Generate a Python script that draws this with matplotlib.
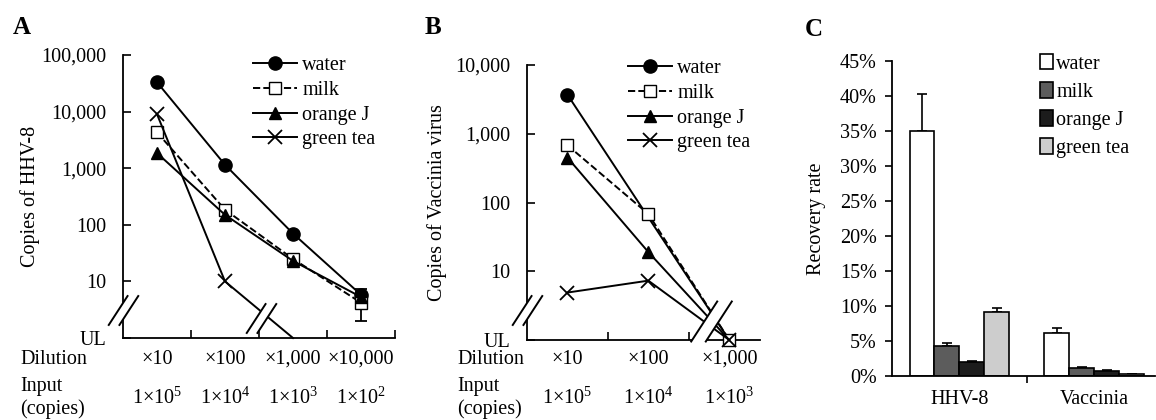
import numpy as np
import matplotlib
matplotlib.use("Agg")
import matplotlib.pyplot as plt
from matplotlib.path import Path
from matplotlib.lines import Line2D
from matplotlib.transforms import blended_transform_factory

plt.rcParams['font.family'] = ['Liberation Serif', 'DejaVu Serif']
plt.rcParams['mathtext.fontset'] = 'custom'
plt.rcParams['mathtext.rm'] = 'Liberation Serif'
FS = 14.5
plt.rcParams['font.size'] = FS

UL = 1.0
nan = np.nan

# panel A - HHV-8
dil_a = ['×10', '×100', '×1,000', '×10,000']
inp_a = [r'1×10$^5$', r'1×10$^4$', r'1×10$^3$', r'1×10$^2$']
hhv_water = [33000, 1150, 70, 5.8]
hhv_milk = [4300, 185, 25, 4.2]
hhv_oj = [1850, 150, 23, 5.3]
hhv_tea = [9000, 10, UL, nan]
hhv_water_err = [0, 0, 0, 1.5]
hhv_milk_err_lo = [0, 0, 0, 2.2]
hhv_milk_err_hi = [0, 0, 0, 2.3]

# panel B - Vaccinia
dil_b = ['×10', '×100', '×1,000']
inp_b = [r'1×10$^5$', r'1×10$^4$', r'1×10$^3$']
vac_water = [3700, nan, UL]
vac_milk = [680, 68, UL]
vac_oj = [450, 19, UL]
vac_tea = [4.9, 7.3, UL]

# panel C - recovery rate (%)
viruses = ['HHV-8', 'Vaccinia']
drinks = ['water', 'milk', 'orange J', 'green tea']
rec = {'water': [35.0, 6.2], 'milk': [4.3, 1.1], 'orange J': [2.0, 0.7], 'green tea': [9.1, 0.3]}
rec_err = {'water': [5.3, 0.7], 'milk': [0.4, 0.15], 'orange J': [0.1, 0.1], 'green tea': [0.6, 0.05]}
bar_colors = {'water': 'white', 'milk': '#5c5c5c', 'orange J': '#1c1c1c', 'green tea': '#cdcdcd'}

styles = {
    'water': dict(marker='o', ms=9.5, mfc='black', ls='-'),
    'milk': dict(marker='s', ms=8.5, mfc='white', ls='--'),
    'orange J': dict(marker='^', ms=8.5, mfc='black', ls='-'),
    'green tea': dict(marker='x', ms=9.5, mew=1.3, ls='-'),
}

# break mark: two parallel slashes with a white gap between them
gap = Path([(-1.0, -1), (0.3, 1), (1.0, 1), (-0.3, -1), (-1.0, -1)],
           [Path.MOVETO, Path.LINETO, Path.LINETO, Path.LINETO, Path.CLOSEPOLY])
slashes = Path([(-1.0, -1), (0.3, 1), (-0.3, -1), (1.0, 1)],
               [Path.MOVETO, Path.LINETO, Path.MOVETO, Path.LINETO])


def brk(ax, x, y, size=22, transform=None):
    t = transform if transform is not None else ax.transData
    ax.plot([x], [y], marker=gap, ms=size, mfc='white', mec='white', mew=0.5,
            ls='none', transform=t, clip_on=False, zorder=5)
    ax.plot([x], [y], marker=slashes, ms=size, mfc='none', mec='black', mew=1.4,
            ls='none', transform=t, clip_on=False, zorder=6)


def plot_line(ax, xs, ys, name, markevery=None, err=None):
    xs = np.asarray(xs, float)
    ys = np.asarray(ys, float)
    ok = ~np.isnan(ys)
    st = dict(styles[name])
    ax.plot(xs[ok], ys[ok], color='black', lw=1.4, mec='black', clip_on=False,
            markevery=markevery, zorder=3, **st)
    if err is not None:
        ax.errorbar(xs[ok], ys[ok], yerr=np.asarray(err)[:, ok], fmt='none',
                    ecolor='black', elinewidth=1.3, capsize=4, capthick=1.3, zorder=2)


def dilution_labels(ax, fig_x, dil, inp):
    tr = blended_transform_factory(ax.transData, fig.transFigure)
    for i, (d, p) in enumerate(zip(dil, inp)):
        ax.text(i + 0.5, 1 - 359 / 420, d, transform=tr, ha='center', va='center')
        ax.text(i + 0.5, 1 - 398 / 420, p, transform=tr, ha='center', va='center')
    fig.text(fig_x, 1 - 360 / 420, 'Dilution', ha='left', va='center')
    fig.text(fig_x, 1 - 386 / 420, 'Input', ha='left', va='center')
    fig.text(fig_x, 1 - 409 / 420, '(copies)', ha='left', va='center')


def style_axes(ax, direction, length, pad):
    ax.yaxis.set_minor_locator(matplotlib.ticker.NullLocator())
    ax.set_xticklabels([])
    ax.tick_params(direction=direction, length=length, width=1.2, labelsize=FS)
    ax.tick_params(axis='y', pad=pad)
    for s in ['top', 'right']:
        ax.spines[s].set_visible(False)
    for s in ['left', 'bottom']:
        ax.spines[s].set_linewidth(1.3)


fig = plt.figure(figsize=(11.56, 4.2), dpi=100)

# ---------- A ----------
axA = fig.add_axes([123 / 1156, 1 - 338 / 420, 272 / 1156, 283 / 420])
xa = np.arange(4) + 0.5
plot_line(axA, xa, hhv_water, 'water', err=[[0] * 4, hhv_water_err])
plot_line(axA, xa, hhv_milk, 'milk', err=[hhv_milk_err_lo, hhv_milk_err_hi])
plot_line(axA, xa, hhv_oj, 'orange J')
plot_line(axA, xa, hhv_tea, 'green tea', markevery=[0, 1])
axA.set_yscale('log')
axA.set_ylim(UL, 1e5)
axA.set_xlim(0, 4)
axA.set_yticks([UL, 10, 100, 1e3, 1e4, 1e5])
axA.set_yticklabels(['UL', '10', '100', '1,000', '10,000', '100,000'])
axA.set_xticks([1, 2, 3, 4])
style_axes(axA, 'in', 6, 12)
axA.set_ylabel('Copies of HHV-8', labelpad=1)
dilution_labels(axA, 20 / 1156, dil_a, inp_a)
brk(axA, 0, 0.1, transform=axA.transAxes)
brk(axA, 2.03, 10 ** (1 - 0.5 * 1.3), size=22)
fig.text(13 / 1156, 1 - 27 / 420, 'A', fontsize=18, fontweight='bold', va='center')

# ---------- B ----------
axB = fig.add_axes([527 / 1156, 1 - 340 / 420, 233 / 1156, 275 / 420])
xb = np.arange(3) + 0.5
plot_line(axB, xb, vac_water, 'water', markevery=[0])
plot_line(axB, xb, vac_milk, 'milk')
plot_line(axB, xb, vac_oj, 'orange J', markevery=[0, 1])
plot_line(axB, xb, vac_tea, 'green tea')
axB.set_yscale('log')
axB.set_ylim(UL, 1e4)
axB.set_xlim(0, 2.88)
axB.set_yticks([UL, 10, 100, 1e3, 1e4])
axB.set_yticklabels(['UL', '10', '100', '1,000', '10,000'])
axB.set_xticks([1, 2])
style_axes(axB, 'in', 6, 12)
axB.set_ylabel('Copies of Vaccinia virus', labelpad=6)
dilution_labels(axB, 457 / 1156, dil_b, inp_b)
brk(axB, 0, 0.11, transform=axB.transAxes)
brk(axB, 2.27, 1.9, size=30)
fig.text(425 / 1156, 1 - 27 / 420, 'B', fontsize=18, fontweight='bold', va='center')

legend_handles = [Line2D([], [], color='black', lw=1.4, mec='black', **styles[n]) for n in drinks]
for ax, lx, ly in [(axA, 253, 56), (axB, 628, 59)]:
    ax.legend(legend_handles, drinks, loc='upper left',
              bbox_to_anchor=(lx / 1156, 1 - ly / 420), bbox_transform=fig.transFigure,
              frameon=False, borderpad=0, borderaxespad=0, handlelength=2.2,
              handletextpad=0.25, labelspacing=0.28)

# ---------- C ----------
axC = fig.add_axes([892 / 1156, 1 - 376 / 420, 263 / 1156, 315 / 420])
xc = np.arange(len(viruses)) + 0.5
w = 0.185
for i, d in enumerate(drinks):
    axC.bar(xc + (i - 1.5) * w, rec[d], w, color=bar_colors[d], edgecolor='black',
            linewidth=1.2, label=d, zorder=2)
    axC.errorbar(xc + (i - 1.5) * w, rec[d], yerr=[[0, 0], rec_err[d]], fmt='none',
                 ecolor='black', elinewidth=1.2, capsize=3.5, capthick=1.2, zorder=1)
axC.set_xlim(0, 1.95)
axC.set_ylim(0, 45)
axC.set_yticks(np.arange(0, 46, 5))
axC.set_yticklabels([f'{v}%' for v in range(0, 46, 5)])
axC.set_xticks([1])
style_axes(axC, 'out', 5, 6)
tr = blended_transform_factory(axC.transData, fig.transFigure)
for x, v in zip(xc, viruses):
    axC.text(x, 1 - 400 / 420, v, transform=tr, ha='center', va='center')
axC.set_ylabel('Recovery rate', labelpad=10)
axC.legend(loc='upper left', bbox_to_anchor=(1040 / 1156, 1 - 54 / 420),
           bbox_transform=fig.transFigure, frameon=False, borderpad=0, borderaxespad=0,
           handlelength=0.65, handleheight=0.8, handletextpad=0.15, labelspacing=0.42)
fig.text(805 / 1156, 1 - 30 / 420, 'C', fontsize=18, fontweight='bold', va='center')

fig.savefig('out.png', dpi=100)
